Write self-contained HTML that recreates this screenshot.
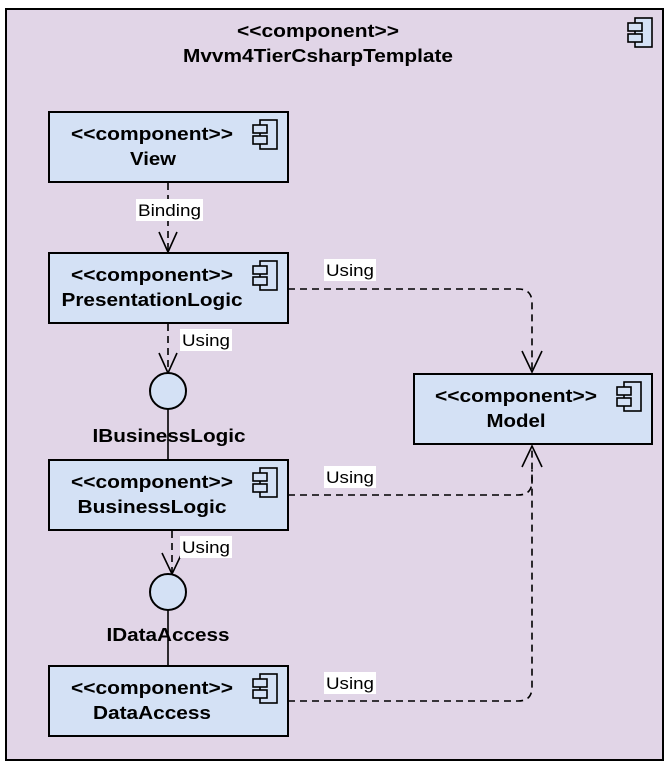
<!DOCTYPE html>
<html><head><style>body{margin:0;background:#fff}svg{display:block}</style></head><body>
<svg width="671" height="769" xmlns="http://www.w3.org/2000/svg" font-family="Liberation Sans, Arial, sans-serif">
<defs>
<g id="ic" fill="#d4e1f5" stroke="#000" stroke-width="1.6">
<rect x="-19" y="0" width="17" height="29"/>
<rect x="-26" y="5" width="14" height="8"/>
<rect x="-26" y="16" width="14" height="8"/>
</g>
</defs>
<rect x="6" y="9" width="657" height="751" fill="#e1d5e7" stroke="#000" stroke-width="2"/>
<use href="#ic" x="654" y="18"/>
<g font-size="18" font-weight="bold" text-anchor="middle" lengthAdjust="spacingAndGlyphs">
<text x="318" y="37" textLength="162" lengthAdjust="spacingAndGlyphs">&lt;&lt;component&gt;&gt;</text>
<text x="318" y="62" textLength="270" lengthAdjust="spacingAndGlyphs">Mvvm4TierCsharpTemplate</text>
</g>

<g stroke="#000" stroke-width="1.6" fill="none">
<line x1="168" y1="183" x2="168" y2="252" stroke-dasharray="7,5"/>
<polyline points="159,232 168,252 177,232"/>
<line x1="168" y1="324" x2="168" y2="373" stroke-dasharray="7,5"/>
<polyline points="159,353 168,373 177,353"/>
<line x1="172" y1="531" x2="172" y2="574" stroke-dasharray="7,5"/>
<polyline points="162,553 172,574 182,553"/>
<line x1="168" y1="409" x2="168" y2="460"/>
<line x1="168" y1="610" x2="168" y2="666"/>
<path d="M288 289 H518 Q532 289 532 303 V373" stroke-dasharray="7,5"/>
<polyline points="522,351 532,372 542,351"/>
<path d="M288 495 H518 Q532 495 532 481 V446" stroke-dasharray="7,5"/>
<path d="M288 701 H518 Q532 701 532 687 V470" stroke-dasharray="7,5"/>
<polyline points="522,467 532,446 542,467"/>
</g>

<g fill="#d4e1f5" stroke="#000" stroke-width="2">
<rect x="49" y="112" width="239" height="70"/>
<rect x="49" y="253" width="239" height="70"/>
<rect x="49" y="460" width="239" height="70"/>
<rect x="49" y="666" width="239" height="70"/>
<rect x="414" y="374" width="238" height="70"/>
<circle cx="168" cy="391" r="18"/>
<circle cx="168" cy="592" r="18"/>
</g>
<use href="#ic" x="279" y="120"/>
<use href="#ic" x="279" y="261"/>
<use href="#ic" x="279" y="468"/>
<use href="#ic" x="279" y="674"/>
<use href="#ic" x="643" y="382"/>

<g font-size="18" font-weight="bold" text-anchor="middle">
<text x="152" y="140" textLength="162" lengthAdjust="spacingAndGlyphs">&lt;&lt;component&gt;&gt;</text><text x="153" y="165" textLength="46" lengthAdjust="spacingAndGlyphs">View</text>
<text x="152" y="281" textLength="162" lengthAdjust="spacingAndGlyphs">&lt;&lt;component&gt;&gt;</text><text x="152" y="306" textLength="181" lengthAdjust="spacingAndGlyphs">PresentationLogic</text>
<text x="152" y="488" textLength="162" lengthAdjust="spacingAndGlyphs">&lt;&lt;component&gt;&gt;</text><text x="152" y="513" textLength="149" lengthAdjust="spacingAndGlyphs">BusinessLogic</text>
<text x="152" y="694" textLength="162" lengthAdjust="spacingAndGlyphs">&lt;&lt;component&gt;&gt;</text><text x="152" y="719" textLength="118" lengthAdjust="spacingAndGlyphs">DataAccess</text>
<text x="516" y="402" textLength="162" lengthAdjust="spacingAndGlyphs">&lt;&lt;component&gt;&gt;</text><text x="516" y="427" textLength="59" lengthAdjust="spacingAndGlyphs">Model</text>
<text x="169" y="442" textLength="153" lengthAdjust="spacingAndGlyphs">IBusinessLogic</text>
<text x="168" y="641" textLength="123" lengthAdjust="spacingAndGlyphs">IDataAccess</text>
</g>

<g font-size="17">
<rect x="136" y="199" width="67" height="22" fill="#fff"/><text x="138" y="216" textLength="63" lengthAdjust="spacingAndGlyphs">Binding</text>
<rect x="180" y="329" width="52" height="22" fill="#fff"/><text x="182" y="346" textLength="48" lengthAdjust="spacingAndGlyphs">Using</text>
<rect x="180" y="536" width="52" height="22" fill="#fff"/><text x="182" y="553" textLength="48" lengthAdjust="spacingAndGlyphs">Using</text>
<rect x="324" y="259" width="52" height="22" fill="#fff"/><text x="326" y="276" textLength="48" lengthAdjust="spacingAndGlyphs">Using</text>
<rect x="324" y="466" width="52" height="22" fill="#fff"/><text x="326" y="483" textLength="48" lengthAdjust="spacingAndGlyphs">Using</text>
<rect x="324" y="672" width="52" height="22" fill="#fff"/><text x="326" y="689" textLength="48" lengthAdjust="spacingAndGlyphs">Using</text>
</g>
</svg>
</body></html>
